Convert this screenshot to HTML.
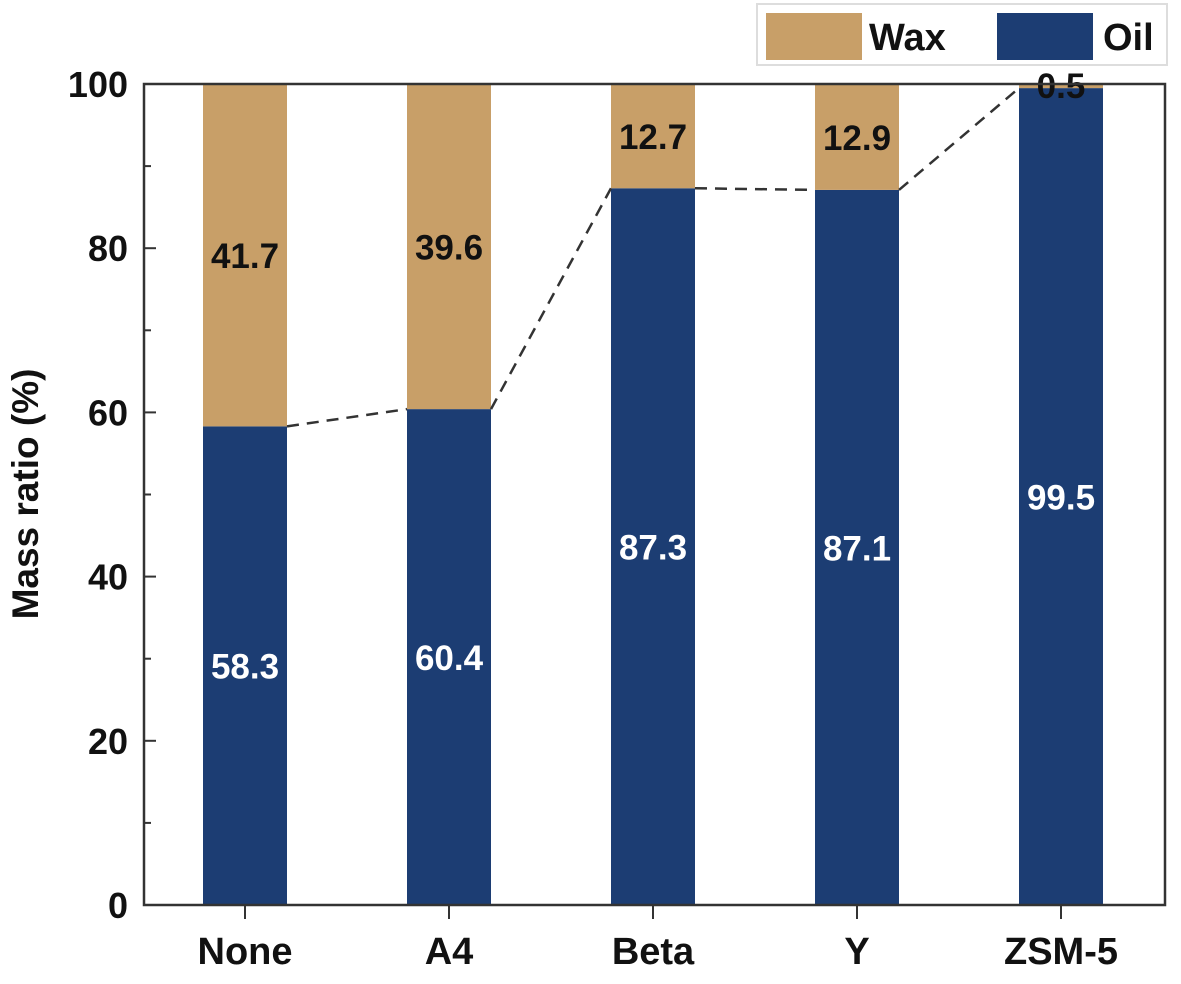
<!DOCTYPE html>
<html><head><meta charset="utf-8"><style>
body{margin:0;background:#fff}
svg text{font-family:"Liberation Sans",Arial,sans-serif;font-weight:bold}
</style></head><body>
<svg id="c" width="1181" height="979" xmlns="http://www.w3.org/2000/svg"></svg>
<script>
const categories=["None","A4","Beta","Y","ZSM-5"];
const oilValues=[58.3,60.4,87.3,87.1,99.5];
const waxValues=[41.7,39.6,12.7,12.9,0.5];
const yTicks=[0,20,40,60,80,100];
const NS="http://www.w3.org/2000/svg";
const svg=document.getElementById('c');
const L=144,R=1165,T=84,B=905;
const y=v=>B-(v/100)*(B-T);
const x=i=>245+i*204;
const BW=84;
function el(t,a,p){const e=document.createElementNS(NS,t);for(const k in a)e.setAttribute(k,a[k]);(p||svg).appendChild(e);return e;}
function txt(s,a){const e=el('text',a);e.textContent=s;return e;}
categories.forEach((c,i)=>{
  const o=el('rect',{x:x(i)-BW/2,y:y(oilValues[i]),width:BW,height:y(0)-y(oilValues[i]),fill:'#1c3d73'});
  
  
  const w=el('rect',{x:x(i)-BW/2,y:y(oilValues[i]+waxValues[i]),width:BW,height:y(oilValues[i])-y(oilValues[i]+waxValues[i]),fill:'#c89f68'});
  
  
  const ol=txt(oilValues[i].toFixed(1),{x:x(i),y:y(oilValues[i]/2)+13,'text-anchor':'middle','font-size':35,fill:'#fff'});
  
  
  const wy=waxValues[i]<3?y(100)+14:y(oilValues[i]+waxValues[i]/2)+13;
  const wl=txt(waxValues[i].toFixed(1),{x:x(i),y:wy,'text-anchor':'middle','font-size':35,fill:'#111'});
  
  
  const xl=txt(c,{x:x(i),y:964,'text-anchor':'middle','font-size':38,fill:'#111'});
  
  
  el('line',{x1:x(i),y1:B,x2:x(i),y2:B+14,stroke:'#333','stroke-width':2});
});
for(let i=0;i<categories.length-1;i++){
  const d=el('line',{x1:x(i)+BW/2,y1:y(oilValues[i]),x2:x(i+1)-BW/2,y2:y(oilValues[i+1]),stroke:'#333','stroke-width':2.5,'stroke-dasharray':'12,8'});
  
  
}
const f=el('rect',{x:L,y:T,width:R-L,height:B-T,fill:'none',stroke:'#333','stroke-width':2.5});


yTicks.forEach(v=>{
  el('line',{x1:L,y1:y(v),x2:L+12,y2:y(v),stroke:'#333','stroke-width':2});
  const t=txt(v,{x:L-16,y:y(v)+13,'text-anchor':'end','font-size':36,fill:'#111'});
  
  
});
for(let v=10;v<100;v+=20){el('line',{x1:L,y1:y(v),x2:L+7,y2:y(v),stroke:'#333','stroke-width':2});}
const yt=txt('Mass ratio (%)',{x:0,y:0,'text-anchor':'middle','font-size':37,fill:'#111',transform:'translate(38,494) rotate(-90)'});


const g=el('g',{});


el('rect',{x:757,y:4,width:410,height:61,fill:'#fff',stroke:'#ddd','stroke-width':2},g);
el('rect',{x:766,y:13,width:96,height:47,fill:'#c89f68'},g);
const lw=txt('Wax',{x:869,y:50,'font-size':38,fill:'#111'});g.appendChild(lw);
el('rect',{x:997,y:13,width:96,height:47,fill:'#1c3d73'},g);
const lo=txt('Oil',{x:1103,y:50,'font-size':38,fill:'#111'});g.appendChild(lo);
</script>
</body></html>
